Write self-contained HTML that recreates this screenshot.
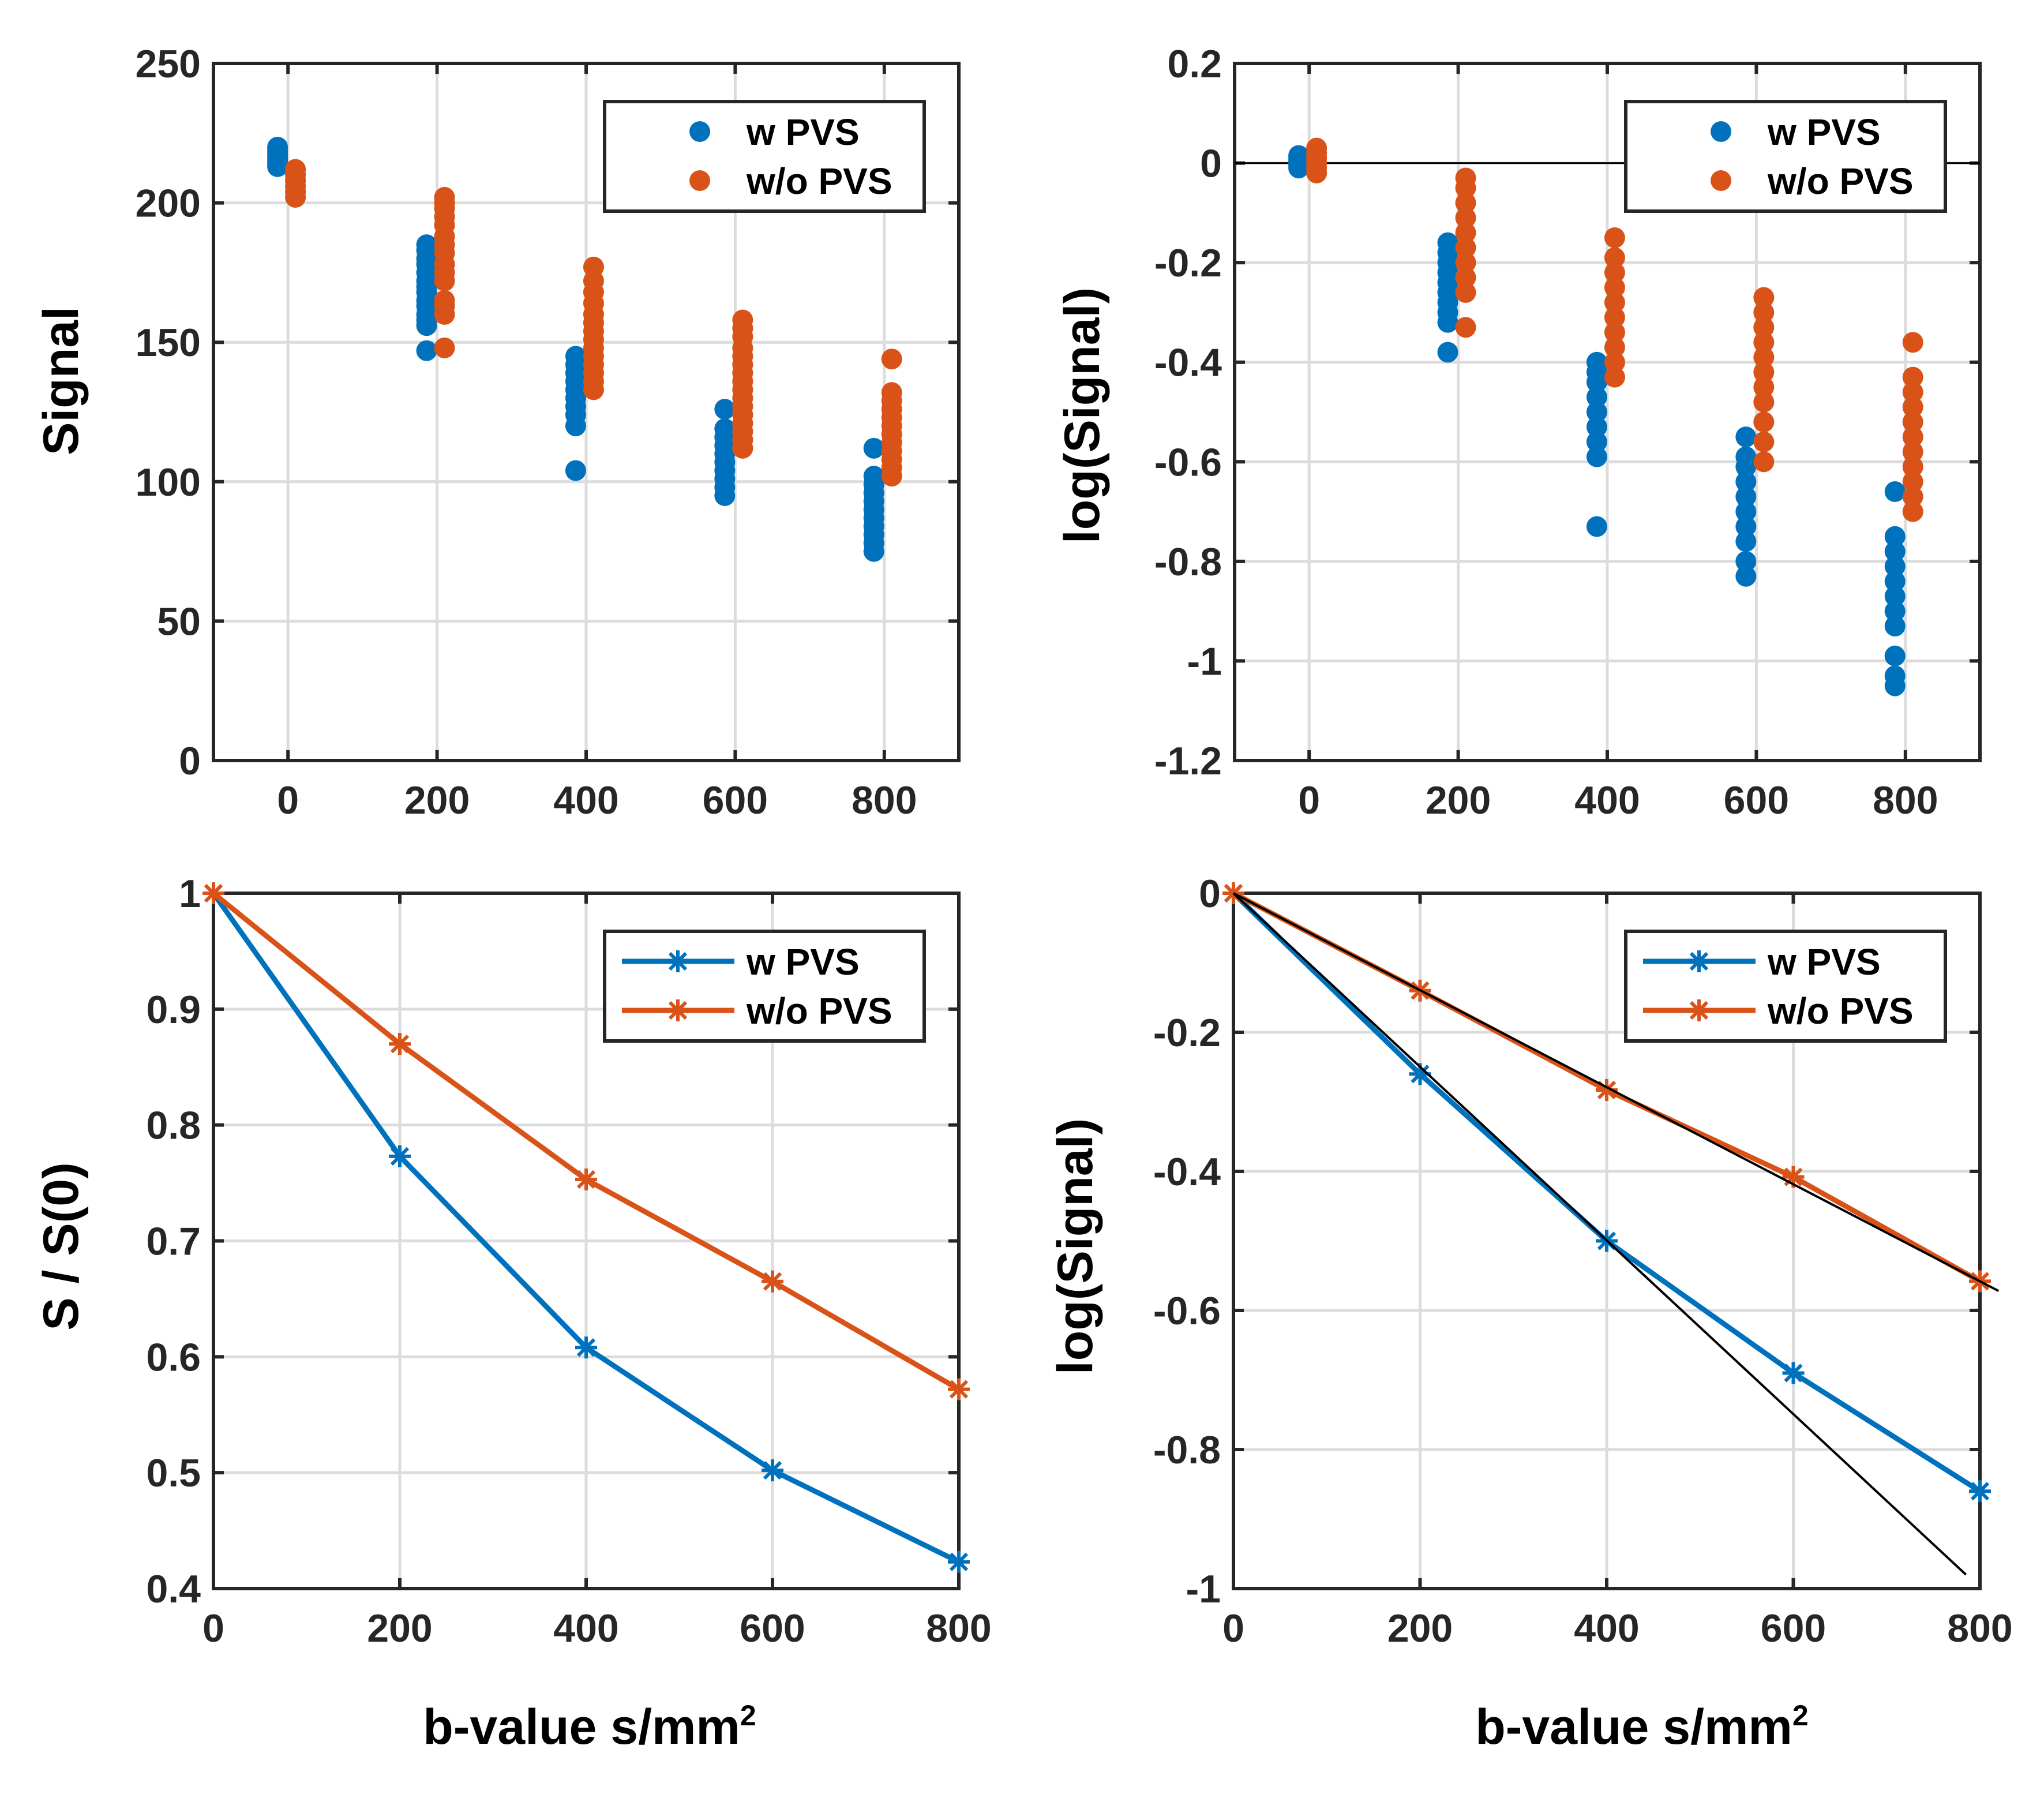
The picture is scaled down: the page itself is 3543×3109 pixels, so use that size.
<!DOCTYPE html>
<html><head><meta charset="utf-8">
<style>
html,body{margin:0;padding:0;background:#fff;}
svg{display:block;font-family:"Liberation Sans",Arial,sans-serif;}
</style></head>
<body>
<svg id="fig" width="3543" height="3109" viewBox="0 0 3543 3109" xmlns="http://www.w3.org/2000/svg"></svg>
<script>
// ---- data ----
const bValues = [0, 200, 400, 600, 800];
const sigW = [
  [213,214,215,216,217,218,219,220],
  [147,156,158,160,163,165,168,170,172,175,178,180,183,185],
  [104,120,124,127,130,133,136,139,142,145],
  [95,98,101,104,107,110,113,116,119,126],
  [75,78,81,84,87,90,93,96,99,102,112]
];
const sigWo = [
  [202,204,206,208,210,212],
  [148,160,163,165,172,175,178,182,185,188,192,195,198,200,202],
  [133,136,139,142,145,148,151,154,157,160,164,168,172,177],
  [112,115,118,121,124,127,130,133,136,139,142,145,148,152,155,158],
  [102,105,108,111,114,117,120,123,126,129,132,144]
];
const logW = [
  [-0.01,-0.005,0,0.005,0.01,0.015],
  [-0.38,-0.32,-0.3,-0.28,-0.26,-0.24,-0.22,-0.2,-0.18,-0.16],
  [-0.73,-0.59,-0.56,-0.53,-0.5,-0.47,-0.44,-0.42,-0.4],
  [-0.83,-0.8,-0.76,-0.73,-0.7,-0.67,-0.64,-0.61,-0.59,-0.55],
  [-1.05,-1.03,-0.99,-0.93,-0.9,-0.87,-0.84,-0.81,-0.78,-0.75,-0.66]
];
const logWo = [
  [-0.02,-0.01,0,0.01,0.02,0.03],
  [-0.33,-0.26,-0.23,-0.2,-0.17,-0.14,-0.11,-0.08,-0.05,-0.03],
  [-0.43,-0.4,-0.37,-0.34,-0.31,-0.28,-0.25,-0.22,-0.19,-0.15],
  [-0.6,-0.56,-0.52,-0.48,-0.45,-0.42,-0.39,-0.36,-0.33,-0.3,-0.27],
  [-0.7,-0.67,-0.64,-0.61,-0.58,-0.55,-0.52,-0.49,-0.46,-0.43,-0.36]
];
const normW = [1, 0.773, 0.608, 0.502, 0.423];
const normWo = [1, 0.870, 0.753, 0.665, 0.572];
const meanLogW = [0, -0.26, -0.50, -0.69, -0.86];
const meanLogWo = [0, -0.14, -0.283, -0.408, -0.558];
const fitW = {x: [0, 785], y: [0, -0.98]};
const fitWo = {x: [0, 820], y: [0, -0.572]};
const tickA = [0,50,100,150,200,250];
const tickB = [-1.2,-1,-0.8,-0.6,-0.4,-0.2,0,0.2];
const tickC = [0.4,0.5,0.6,0.7,0.8,0.9,1];
const tickD = [-1,-0.8,-0.6,-0.4,-0.2,0];

const BLUE = '#0072BD', ORANGE = '#D95319';
const svg = document.getElementById('fig');
const NS = 'http://www.w3.org/2000/svg';
function mk(tag, attrs, parent, text) {
  const e = document.createElementNS(NS, tag);
  for (const k in attrs) e.setAttribute(k, attrs[k]);
  if (text !== undefined) e.textContent = text;
  (parent || svg).appendChild(e);
  return e;
}
function fmt(v){ return (Math.round(v*10)/10).toString(); }

function panel(name, L, R, T, B, xmin, xmax, ymin, ymax, yticks) {
  const g = mk('g', {});
  
  
  const sx = v => L + (v - xmin) / (xmax - xmin) * (R - L);
  const sy = v => B - (v - ymin) / (ymax - ymin) * (B - T);
  const grid = mk('g', {}, g);
  
  
  bValues.forEach(b => mk('line', {x1: sx(b), x2: sx(b), y1: T, y2: B, stroke: '#dcdcdc', 'stroke-width': 5}, grid));
  yticks.forEach(t => mk('line', {x1: L, x2: R, y1: sy(t), y2: sy(t), stroke: '#dcdcdc', 'stroke-width': 5}, grid));
  const ax = mk('g', {}, g);
  
  
  bValues.forEach(b => {
    mk('line', {x1: sx(b), x2: sx(b), y1: B, y2: B - 18, stroke: '#262626', 'stroke-width': 6}, ax);
    mk('line', {x1: sx(b), x2: sx(b), y1: T, y2: T + 18, stroke: '#262626', 'stroke-width': 6}, ax);
    const t = mk('text', {x: sx(b), y: B + 92, 'text-anchor': 'middle', 'font-size': 68, 'font-weight': 'bold', fill: '#262626'}, ax, String(b));
    
    
  });
  yticks.forEach(v => {
    mk('line', {x1: L, x2: L + 18, y1: sy(v), y2: sy(v), stroke: '#262626', 'stroke-width': 6}, ax);
    mk('line', {x1: R, x2: R - 18, y1: sy(v), y2: sy(v), stroke: '#262626', 'stroke-width': 6}, ax);
    const t = mk('text', {x: L - 22, y: sy(v) + 24, 'text-anchor': 'end', 'font-size': 68, 'font-weight': 'bold', fill: '#262626'}, ax, fmt(v));
    
    
  });
  return {g, sx, sy, L, R, T, B, ax};
}
function frame(p) {
  mk('rect', {x: p.L, y: p.T, width: p.R - p.L, height: p.B - p.T, fill: 'none', stroke: '#262626', 'stroke-width': 6}, p.ax);
}
function dot(parent, x, y, c) {
  const d = mk('circle', {cx: x, cy: y, r: 18, fill: c}, parent);
  
  
}
function star(parent, x, y, c) {
  const s = 19, s2 = 14;
  mk('path', {d: `M${x-s},${y}H${x+s}M${x},${y-s}V${y+s}M${x-s2},${y-s2}L${x+s2},${y+s2}M${x-s2},${y+s2}L${x+s2},${y-s2}`, stroke: c, 'stroke-width': 6, fill: 'none'}, parent);
}
function scatter(p, groups, off, color, nm) {
  const g = mk('g', {}, p.g);
  
  
  groups.forEach((arr, i) => arr.forEach(v => dot(g, p.sx(bValues[i] + off), p.sy(v), color)));
}
function series(p, vals, color, nm) {
  const g = mk('g', {}, p.g);
  
  
  const pts = vals.map((v, i) => p.sx(bValues[i]) + ',' + p.sy(v)).join(' ');
  mk('polyline', {points: pts, fill: 'none', stroke: color, 'stroke-width': 9}, g);
  vals.forEach((v, i) => star(g, p.sx(bValues[i]), p.sy(v), color));
}
function legend(x, y, lineStyle) {
  const g = mk('g', {});
  
  
  mk('rect', {x: x, y: y, width: 554, height: 190, fill: '#fff', stroke: '#262626', 'stroke-width': 6}, g);
  [['w PVS', BLUE, 52], ['w/o PVS', ORANGE, 137]].forEach(([lab, c, dy]) => {
    const e = mk('g', {}, g);
    
    
    if (lineStyle) {
      mk('line', {x1: x + 30, x2: x + 225, y1: y + dy, y2: y + dy, stroke: c, 'stroke-width': 9}, e);
      star(e, x + 127, y + dy, c);
    } else {
      dot(e, x + 165, y + dy, c);
    }
    mk('text', {x: x + 246, y: y + dy + 23, 'font-size': 64, 'font-weight': 'bold', fill: '#000'}, e, lab);
  });
}
function label(x, y, txt, rot, nm) {
  const t = mk('text', {x: x, y: y, 'text-anchor': 'middle', 'font-size': 86, 'font-weight': 'bold', fill: '#000', transform: rot ? `rotate(-90 ${x} ${y})` : ''}, svg, txt);
  
  
  return t;
}

const pA = panel('signal-panel', 370, 1662, 110, 1318, -100, 900, 0, 250, tickA);
scatter(pA, sigW, -14, BLUE, 'series-w-pvs');
scatter(pA, sigWo, 10, ORANGE, 'series-wo-pvs');
frame(pA);
legend(1048, 176, false);
label(135, 660, 'Signal', true, 'y-axis-title');

const pB = panel('log-signal-scatter-panel', 2140, 3432, 110, 1318, -100, 900, -1.2, 0.2, tickB);
mk('line', {x1: pB.L, x2: pB.R, y1: pB.sy(0), y2: pB.sy(0), stroke: '#000', 'stroke-width': 3}, pB.g);
scatter(pB, logW, -14, BLUE, 'series-w-pvs');
scatter(pB, logWo, 10, ORANGE, 'series-wo-pvs');
frame(pB);
legend(2818, 176, false);
label(1905, 720, 'log(Signal)', true, 'y-axis-title');

const pC = panel('normalized-signal-panel', 370, 1662, 1548, 2753, 0, 800, 0.4, 1, tickC);
series(pC, normW, BLUE, 'series-w-pvs');
series(pC, normWo, ORANGE, 'series-wo-pvs');
frame(pC);
legend(1048, 1614, true);
label(135, 2160, 'S / S(0)', true, 'y-axis-title');
label(1022, 3022, '', false, 'x-axis-title').innerHTML = 'b-value s/mm<tspan font-size="50" dy="-32">2</tspan>';

const pD = panel('log-signal-fit-panel', 2138, 3432, 1548, 2753, 0, 800, -1, 0, tickD);
series(pD, meanLogW, BLUE, 'series-w-pvs');
series(pD, meanLogWo, ORANGE, 'series-wo-pvs');
[fitW, fitWo].forEach(f => {
  const l = mk('line', {x1: pD.sx(f.x[0]), y1: pD.sy(f.y[0]), x2: pD.sx(f.x[1]), y2: pD.sy(f.y[1]), stroke: '#000', 'stroke-width': 4}, pD.g);
  
  
});
frame(pD);
legend(2818, 1614, true);
label(1893, 2160, 'log(Signal)', true, 'y-axis-title');
label(2846, 3022, '', false, 'x-axis-title').innerHTML = 'b-value s/mm<tspan font-size="50" dy="-32">2</tspan>';
</script>
</body></html>
